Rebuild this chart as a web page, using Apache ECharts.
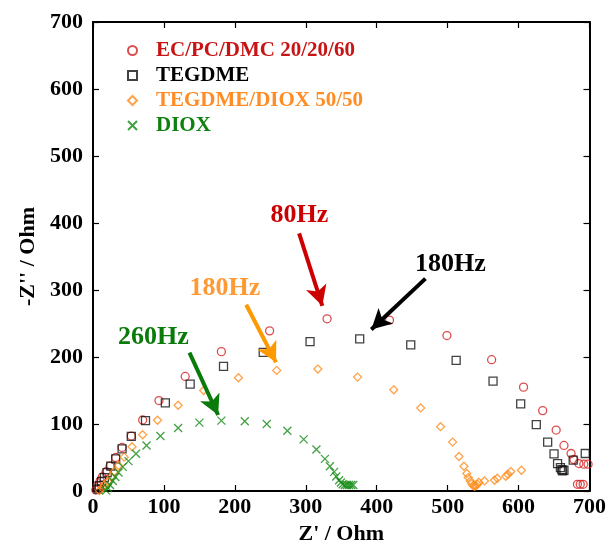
<!DOCTYPE html>
<html><head><meta charset="utf-8">
<script src="https://cdn.jsdelivr.net/npm/echarts@6/dist/echarts.min.js"></script>
<style>html,body{margin:0;padding:0;background:#fff}#c{width:609px;height:550px}</style>
</head><body><div id="c"></div><script>
// Data (Z' [Ohm], -Z'' [Ohm])
var ecPcDmc = [[4,1.5],[6,8],[10,15],[13,21],[18.5,29],[24,37],[32,50],[41,65],[54,82],[70,106],[93,135],[130,171],[181,208],[249,239],[330,257],[418,255],[499,232],[562,196],[607,155],[634,120],[653,91],[664,68],[674,56],[678,47],[685,41],[692,40],[698,40],[683,10],[687,10],[691,10]];
var tegdme = [[7,3],[9,8],[12,14],[16,20],[20,27.5],[25,37],[32,48],[41,63],[54,81.5],[74,105],[102,131.5],[137,159.5],[184,186],[240,207],[306,223],[376,227],[448,218],[512,195],[564,164],[603,130],[625,99],[641,73],[650,55.5],[655,41],[659,35],[661,32],[662,30],[664,31],[677,46],[694,56]];
var tegdmeDiox = [[9,0.5],[13,4.4],[16,9],[21,14],[25.5,21],[30,29],[36,38],[44,50.5],[55,66],[70,84],[91,105.6],[120,128],[156,150],[205,169],[259,180],[317,182],[373,170],[424,151],[462,124],[490,96],[507,73],[516,51.5],[523,37],[527,26],[529,20],[532,15],[534,11],[536,8],[538,7],[540,8],[542,10],[544,13],[552,15],[566,16],[570,19],[582,22],[585,25],[589,29],[604,31]];
var diox = [[18.5,0.5],[21,4.4],[24,9],[28,15],[31.5,21],[36,27.5],[42,36],[50,44.6],[60.6,55.5],[75.5,68],[95,82],[120,94],[150,102],[181,105],[214,104],[245,100],[274,90],[297,77],[315,62],[327,48],[334,37],[340,28.5],[343,21.6],[347,16],[349.5,12.8],[352,10],[355,9],[358,9],[361,9],[364,9],[367,9]];
var seriesNames = ['EC/PC/DMC 20/20/60','TEGDME','TEGDME/DIOX 50/50','DIOX'];
var xTicks = [0,100,200,300,400,500,600,700];
var yTicks = [0,100,200,300,400,500,600,700];
// annotations: label, text position, arrow start, arrow tip
var annLabels = ['80Hz','180Hz','180Hz','260Hz'];
var annText = [[291,411],[504,339],[186,302],[85,230]];
var annStart = [[290.6,384.4],[468.7,317],[216,278],[136,206.6]];
var annTip = [[323.3,276.4],[392.4,241],[258,192],[176.4,113.4]];

var FONT = '"Liberation Serif","Times New Roman",serif';
var colors = ['#d42020','#111111','#ff8c1a','#138a13'];
var textColors = ['#c81414','#000000','#ff8c24','#108010'];
var arrowColors = ['#cc0000','#000000','#ff9900','#0a7a0a'];
var annTextColors = ['#cc0000','#000000','#ff9933','#0a7a0a'];
var symbols = ['circle','rect','diamond','path://M0,0L10,10M10,0L0,10'];
var sizes = [8,8,8,8];
var datas = [ecPcDmc, tegdme, tegdmeDiox, diox];

var series = datas.map(function(d,i){
  return {
    name: seriesNames[i], type:'scatter', data:d, symbol:symbols[i], symbolSize:sizes[i],
    itemStyle:{color:'rgba(255,255,255,0)', borderColor:colors[i], borderWidth:1.3},
    animation:false, z: 3,
    markLine:{silent:true, animation:false, symbol:['none','arrow'], symbolSize:[16,20],
      lineStyle:{color:arrowColors[i], width:4, type:'solid'}, label:{show:false},
      data:[[{coord:annStart[i]},{coord:annTip[i]}]]},
    markPoint:{silent:true, animation:false, symbol:'circle', symbolSize:1,
      itemStyle:{color:'rgba(0,0,0,0)'},
      label:{show:true, position:'inside', formatter:annLabels[i], color:annTextColors[i],
        fontSize:26, fontWeight:'bold', fontFamily:FONT},
      data:[{coord:annText[i]}]}
  };
});

function axisCommon(isX, main){
  return {
    type:'value', min:0, max:700, interval:100,
    axisLine:{show:true, onZero:false, lineStyle:{color:'#000', width:2}},
    axisTick:{show:true, inside:true, length:6, lineStyle:{color:'#000', width:1.2}},
    splitLine:{show:false},
    axisLabel:{show:main, color:'#000', fontSize:22, fontWeight:'bold', fontFamily:FONT, margin: isX?5:10},
  };
}
var x1 = axisCommon(true,true); x1.position='bottom';
x1.name="Z' / Ohm"; x1.nameLocation='middle'; x1.nameGap=32;
x1.nameTextStyle={color:'#000', fontSize:22, fontWeight:'bold', fontFamily:FONT};
var x2 = axisCommon(true,false); x2.position='top';
var y1 = axisCommon(false,true); y1.position='left';
y1.name="-Z'' / Ohm"; y1.nameLocation='middle'; y1.nameGap=52;
y1.nameTextStyle={color:'#000', fontSize:22, fontWeight:'bold', fontFamily:FONT};
var y2 = axisCommon(false,false); y2.position='right';

var chart = echarts.init(document.getElementById('c'), null, {renderer:'canvas'});
chart.setOption({
  backgroundColor:'#fff',
  animation:false,
  grid:{left:93, right:17, top:22, bottom:53, show:false},
  legend:{orient:'vertical', left:127, top:40, padding:0, itemGap:4, itemWidth:9, itemHeight:9,
    textStyle:{fontSize:21, fontWeight:'bold', fontFamily:FONT, lineHeight:21, padding:[0,0,0,14]},
    data: seriesNames.map(function(n,i){ return {name:n, textStyle:{color:textColors[i]}}; })},
  xAxis:[x1,x2],
  yAxis:[y1,y2],
  series: series
});
</script></body></html>
